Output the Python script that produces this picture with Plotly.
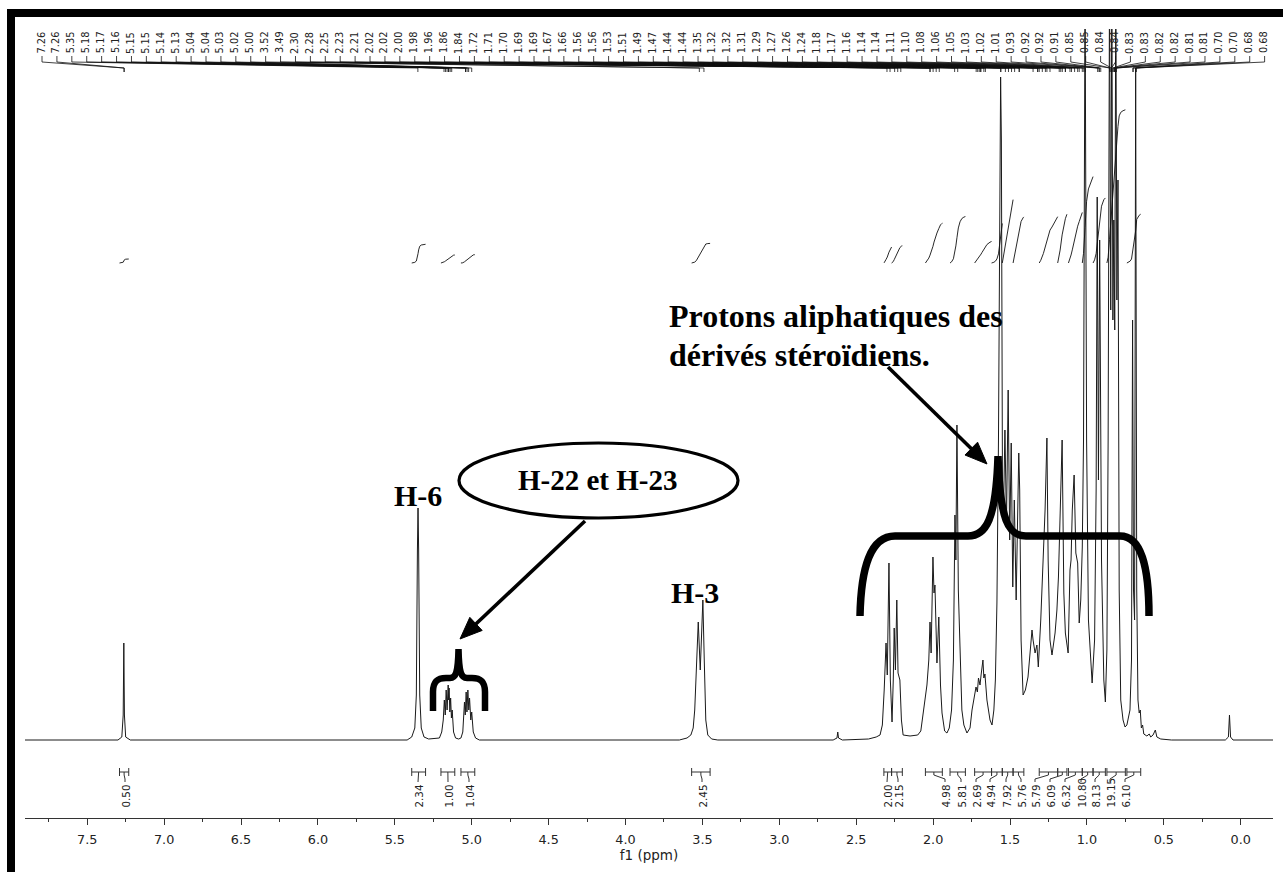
import numpy as np
import plotly.graph_objects as go

# 1H NMR spectrum (CDCl3) as (ppm, intensity) vertices, high field to the right
shift_ppm = [
    7.905, 7.300, 7.275, 7.266, 7.262, 7.258, 7.250, 7.220,
    5.420, 5.390, 5.370, 5.360, 5.353, 5.349, 5.345, 5.338, 5.328, 5.310, 5.280,
    5.210, 5.195, 5.185, 5.178, 5.172, 5.166, 5.160, 5.153, 5.150, 5.147, 5.142,
    5.137, 5.132, 5.127, 5.118, 5.105, 5.085,
    5.070, 5.058, 5.047, 5.042, 5.036, 5.031, 5.025, 5.019, 5.014, 5.006, 5.000,
    4.990, 4.975, 4.950,
    3.650, 3.600, 3.575, 3.560, 3.550, 3.540, 3.527, 3.514, 3.497, 3.488, 3.478,
    3.465, 3.440, 3.400,
    2.650, 2.625, 2.620, 2.615, 2.590,
    2.420, 2.370, 2.345, 2.330, 2.318, 2.306, 2.298, 2.287, 2.278, 2.267, 2.259,
    2.253, 2.245, 2.236, 2.228, 2.216, 2.206, 2.195, 2.150, 2.100, 2.080,
    2.065, 2.052, 2.040, 2.028, 2.020, 2.013, 2.001, 1.994, 1.988, 1.975, 1.963,
    1.952, 1.942, 1.925, 1.910,
    1.895, 1.880, 1.868, 1.858, 1.852, 1.845, 1.836, 1.825, 1.813, 1.800, 1.780,
    1.760, 1.747, 1.721, 1.712, 1.705, 1.695, 1.688, 1.682, 1.676, 1.670, 1.663,
    1.650, 1.630, 1.617,
    1.605, 1.595, 1.585, 1.575, 1.566, 1.561, 1.556, 1.549, 1.542, 1.533, 1.523,
    1.512, 1.502, 1.492, 1.482, 1.472, 1.460, 1.443, 1.437, 1.428, 1.415, 1.400,
    1.383, 1.357, 1.350, 1.337, 1.325, 1.316, 1.300, 1.283, 1.272, 1.260, 1.252,
    1.240, 1.227, 1.207, 1.195, 1.185, 1.174, 1.161, 1.150, 1.140, 1.122, 1.110,
    1.103, 1.095, 1.083, 1.072, 1.060, 1.050, 1.040, 1.030, 1.022, 1.012, 1.002,
    0.990, 0.966, 0.950, 0.940, 0.933, 0.925, 0.917, 0.905, 0.890, 0.880,
    0.870, 0.862, 0.853, 0.845, 0.838, 0.831, 0.825, 0.819, 0.812, 0.805, 0.798,
    0.790, 0.780, 0.765, 0.752,
    0.740, 0.720, 0.710, 0.703, 0.697, 0.690, 0.683, 0.676, 0.668, 0.660, 0.653,
    0.646, 0.638, 0.630, 0.610, 0.595, 0.585, 0.570, 0.555, 0.545, 0.520, 0.450,
    0.100, 0.080, 0.073, 0.066, 0.050, -0.210,
]
intensity = [
    0, 0, 3, 25, 97, 25, 3, 0,
    0, 3, 12, 45, 190, 232, 190, 45, 12, 3, 1,
    2, 8, 20, 40, 25, 50, 30, 55, 40, 52, 28,
    42, 22, 30, 8, 2, 1,
    2, 8, 38, 25, 48, 28, 50, 30, 42, 20, 28,
    8, 2, 0,
    0, 2, 5, 12, 30, 65, 118, 70, 140, 80, 20,
    5, 1, 0,
    0, 2, 8, 2, 0,
    1, 3, 5, 15, 50, 97, 65, 177, 60, 18, 60,
    112, 70, 140, 67, 60, 20, 5, 4, 5, 9,
    25, 43, 55, 80, 118, 87, 183, 147, 155, 77, 123,
    55, 27, 9, 7,
    12, 30, 80, 225, 180, 315, 150, 87, 30, 15, 7,
    12, 30, 53, 48, 62, 55, 65, 72, 80, 62, 66,
    40, 20, 15,
    30, 60, 137, 300, 600, 663, 600, 250, 230, 310, 215,
    350, 200, 297, 153, 240, 140, 287, 250, 100, 45, 50,
    63, 110, 100, 87, 95, 73, 120, 192, 230, 302, 180,
    100, 85, 107, 130, 163, 237, 300, 147, 107, 87, 170,
    180, 230, 265, 187, 177, 117, 140, 193, 300, 760, 300,
    120, 57, 100, 250, 543, 260, 500, 180, 60, 38,
    90, 300, 760, 430, 760, 420, 520, 410, 760, 440, 560,
    150, 40, 20, 13,
    15, 30, 80, 420, 150, 120, 672, 150, 40, 27, 30,
    12, 15, 6, 4, 6, 3, 5, 10, 3, 1, 0,
    0, 3, 25, 3, 0, 0,
]

# Peak picking (ppm)
peak_labels = [
    7.26, 7.26, 5.35, 5.18, 5.17, 5.16, 5.15, 5.15, 5.14, 5.13, 5.04, 5.04,
    5.03, 5.02, 5.00, 3.52, 3.49, 2.30, 2.28, 2.25, 2.23, 2.21, 2.02, 2.02,
    2.00, 1.98, 1.96, 1.86, 1.84, 1.72, 1.71, 1.70, 1.69, 1.69, 1.67, 1.66,
    1.56, 1.56, 1.53, 1.51, 1.49, 1.47, 1.44, 1.44, 1.35, 1.32, 1.32, 1.31,
    1.29, 1.27, 1.26, 1.24, 1.18, 1.17, 1.16, 1.14, 1.14, 1.11, 1.10, 1.08,
    1.06, 1.05, 1.03, 1.02, 1.01, 0.93, 0.92, 0.92, 0.91, 0.85, 0.85, 0.84,
    0.84, 0.83, 0.83, 0.82, 0.82, 0.81, 0.81, 0.70, 0.70, 0.68, 0.68,
]

# Integrals: region limits (ppm), relative areas, and pixel column of each label
integral_start = [7.29, 5.39, 5.20, 5.07, 3.57, 2.32, 2.27, 2.05, 1.89, 1.73,
                  1.62, 1.55, 1.48, 1.31, 1.19, 1.12, 1.03, 0.96, 0.87, 0.74]
integral_end = [7.23, 5.30, 5.11, 4.98, 3.45, 2.27, 2.20, 1.94, 1.79, 1.62,
                1.55, 1.48, 1.41, 1.19, 1.13, 1.03, 0.96, 0.88, 0.75, 0.65]
integral_value = [0.50, 2.34, 1.00, 1.04, 2.45, 2.00, 2.15, 4.98, 5.81, 2.69,
                  4.94, 7.92, 5.76, 5.79, 6.09, 6.32, 10.80, 8.13, 19.15, 6.10]
integral_label_x = [125, 418, 448, 469, 702, 887, 898, 945, 961, 976,
                    990, 1006, 1021, 1035, 1050, 1065, 1081, 1095, 1110, 1125]

axis_ticks = [0.0, 0.5, 1.0, 1.5, 2.0, 2.5, 3.0, 3.5, 4.0, 4.5, 5.0, 5.5,
              6.0, 6.5, 7.0, 7.5]

# ---------------------------------------------------------------- geometry
W, H = 1283, 872
PL, PR, PT, PB = 25, 1273, 29, 818          # plot area in pixels
X_LEFT, X_RIGHT = 7.9045, -0.210            # ppm at the plot edges
BASE = 740                                  # pixel row of the spectrum baseline
Y_LO, Y_HI = BASE - PB, BASE - PT


def px_to_ppm(px):
    return X_LEFT - (px - PL) / (PR - PL) * (X_LEFT - X_RIGHT)


def row(py):
    """pixel row -> intensity units (one unit per pixel)"""
    return BASE - py


def fx(px):
    return (px - PL) / (PR - PL)


def fy(py):
    return (PB - py) / (PB - PT)


def ppath(points, close=False):
    parts = []
    for i, (x, y) in enumerate(points):
        parts.append(("M" if i == 0 else "L") + f"{fx(x):.5f},{fy(y):.5f}")
    return " ".join(parts) + (" Z" if close else "")


def bez(path_pts):
    """path given as list of (cmd, [(x,y),...]) in pixels -> paper path string"""
    out = []
    for cmd, pts in path_pts:
        out.append(cmd + " " + " ".join(f"{fx(x):.5f},{fy(y):.5f}" for x, y in pts))
    return " ".join(out)


INK = "#111111"
fig = go.Figure()

# spectrum
fig.add_trace(go.Scatter(x=shift_ppm, y=intensity, mode="lines",
                         line=dict(color="#1a1a1a", width=1), hoverinfo="skip"))

# integral curves (running integral of each region)
sp = np.array(shift_ppm, dtype=float)
it = np.array(intensity, dtype=float)
asc_x, asc_y = sp[::-1], it[::-1]
INT_BASE = row(263)
INT_SCALE = 8.0
for a, b, v in zip(integral_start, integral_end, integral_value):
    inside = (sp < a) & (sp > b)
    xs = np.concatenate([[a], sp[inside], [b]])
    ys = np.interp(xs, asc_x, asc_y)
    cum = np.concatenate([[0.0], np.cumsum(0.5 * (ys[1:] + ys[:-1]) * np.abs(np.diff(xs)))])
    frac = cum / cum[-1]
    fig.add_trace(go.Scatter(x=xs, y=INT_BASE + INT_SCALE * v * frac, mode="lines",
                             line=dict(color=INK, width=0.9), hoverinfo="skip"))

# integral brackets with hooks to their labels
bx, by = [], []
for a, b, lx in zip(integral_start, integral_end, integral_label_x):
    c = 0.5 * (a + b)
    L = px_to_ppm(lx)
    bx += [a, b, None, a, a, None, b, b, None, c, c, L, L, None]
    by += [row(772), row(772), None, row(768), row(776), None, row(768), row(776), None,
           row(772), row(775), row(779), row(782), None]
fig.add_trace(go.Scatter(x=bx, y=by, mode="lines", line=dict(color="#333", width=1),
                         hoverinfo="skip"))

# peak label tree
LABEL_X0, LABEL_STEP = 42.0, 14.91
tx, ty = [], []
for i, v in enumerate(peak_labels):
    lp = px_to_ppm(LABEL_X0 + LABEL_STEP * i)
    tx += [lp, lp, v, v, None]
    ty += [row(56), row(62), row(68), row(72), None]
fig.add_trace(go.Scatter(x=tx, y=ty, mode="lines", line=dict(color=INK, width=0.8),
                         hoverinfo="skip"))

annotations = []
for i, v in enumerate(peak_labels):
    annotations.append(dict(
        x=fx(LABEL_X0 + LABEL_STEP * i - 1), y=fy(42.5), xref="paper", yref="paper",
        text=f"{v:.2f}", showarrow=False, textangle=-90, xanchor="center", yanchor="middle",
        font=dict(family="DejaVu Sans", size=9.8, color="#222")))

for v, lx in zip(integral_value, integral_label_x):
    annotations.append(dict(
        x=fx(lx), y=fy(810), xref="paper", yref="paper", text=f"{v:.2f}",
        showarrow=False, textangle=-90, xanchor="center", yanchor="bottom",
        font=dict(family="DejaVu Sans", size=10.3, color="#222")))

SERIF = "Liberation Serif"
for txt, x, y, size, anchor in [
    ("<b>H-6</b>", 418, 495, 30, "center"),
    ("<b>H-22 et H-23</b>", 597, 480, 29, "center"),
    ("<b>H-3</b>", 695, 592, 30, "center"),
    ("<b>Protons aliphatiques des</b>", 667, 316, 32, "left"),
    ("<b>dérivés stéroïdiens.</b>", 667, 355, 32, "left"),
]:
    annotations.append(dict(x=fx(x), y=fy(y), xref="paper", yref="paper", text=txt,
                            showarrow=False, xanchor=anchor, yanchor="middle",
                            font=dict(family=SERIF, size=size, color="black")))

shapes = []

# frame
shapes.append(dict(type="rect", xref="paper", yref="paper", x0=fx(7), x1=fx(15),
                   y0=fy(H), y1=fy(9), fillcolor="black", line=dict(width=0), layer="above"))
shapes.append(dict(type="rect", xref="paper", yref="paper", x0=fx(7), x1=fx(W),
                   y0=fy(17), y1=fy(9), fillcolor="black", line=dict(width=0), layer="above"))

# ellipse around the H-22 / H-23 label
shapes.append(dict(type="circle", xref="paper", yref="paper", x0=fx(459), x1=fx(738),
                   y0=fy(518), y1=fy(443), line=dict(color="black", width=3.2), layer="above"))


def arrow(tail, tip, head_len=22, half_w=9, lw=3.6):
    (x0, y0), (x1, y1) = tail, tip
    dx, dy = x1 - x0, y1 - y0
    n = (dx * dx + dy * dy) ** 0.5
    ux, uy = dx / n, dy / n
    bxp, byp = x1 - ux * head_len, y1 - uy * head_len
    nx, ny = -uy, ux
    shaft = ppath([(x0, y0), (bxp + ux * 2, byp + uy * 2)])
    head = ppath([(x1, y1), (bxp + nx * half_w, byp + ny * half_w),
                  (bxp - nx * half_w, byp - ny * half_w)], close=True)
    return [dict(type="path", xref="paper", yref="paper", path=shaft,
                 line=dict(color="black", width=lw), layer="above"),
            dict(type="path", xref="paper", yref="paper", path=head, fillcolor="black",
                 line=dict(color="black", width=1), layer="above")]


shapes += arrow((585, 521), (460, 639))
shapes += arrow((888, 367), (987, 464))

# small brace over the H-22 / H-23 multiplets
brace_small = bez([
    ("M", [(433, 711)]), ("L", [(433, 692)]),
    ("C", [(433, 682), (437, 678), (446, 678)]), ("L", [(450, 678)]),
    ("C", [(456, 678), (458, 672), (458.5, 649)]),
    ("C", [(459, 672), (461, 678), (467, 678)]), ("L", [(472, 678)]),
    ("C", [(481, 678), (485, 682), (485, 692)]), ("L", [(485, 711)]),
])
shapes.append(dict(type="path", xref="paper", yref="paper", path=brace_small,
                   line=dict(color="black", width=6.5), layer="above"))

# large brace over the aliphatic envelope
brace_big = bez([
    ("M", [(860, 616)]),
    ("C", [(861, 568), (870, 536), (895, 536)]), ("L", [(968, 536)]),
    ("C", [(986, 536), (996, 520), (998, 456)]),
    ("C", [(1000, 520), (1008, 536), (1026, 536)]), ("L", [(1120, 536)]),
    ("C", [(1141, 536), (1149, 566), (1149, 616)]),
])
shapes.append(dict(type="path", xref="paper", yref="paper", path=brace_big,
                   line=dict(color="black", width=7.5), layer="above"))

fig.update_layout(
    width=W, height=H,
    margin=dict(l=PL, r=W - PR, t=PT, b=H - PB, pad=0),
    paper_bgcolor="white", plot_bgcolor="white",
    showlegend=False,
    annotations=annotations,
    shapes=shapes,
    xaxis=dict(
        range=[X_LEFT, X_RIGHT], tickmode="array", tickvals=axis_ticks,
        ticktext=[f"{t:.1f}" for t in axis_ticks],
        ticks="outside", ticklen=6, tickwidth=1, tickcolor="#333",
        ticklabelstandoff=4,
        showline=True, linecolor="#333", linewidth=1,
        showgrid=False, zeroline=False,
        minor=dict(dtick=0.25, tick0=0, ticks="outside", ticklen=3, tickcolor="#333",
                   showgrid=False),
        tickfont=dict(family="DejaVu Sans", size=12.8, color="#222"),
        title=dict(text="f1 (ppm)", font=dict(family="DejaVu Sans", size=13.5, color="#222"),
                   standoff=0),
        automargin=False, fixedrange=True,
    ),
    yaxis=dict(range=[Y_LO, Y_HI], visible=False, fixedrange=True),
)

fig.write_html("out.html")
